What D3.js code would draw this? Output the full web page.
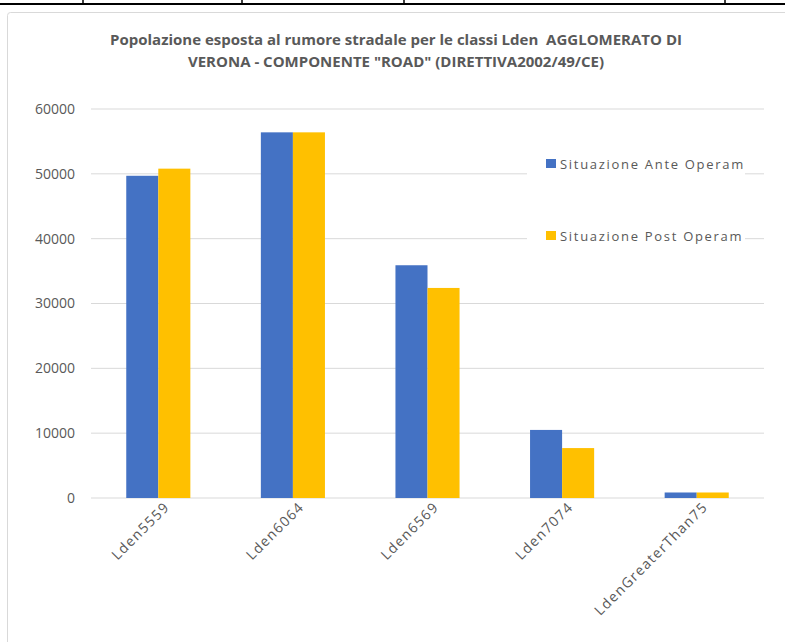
<!DOCTYPE html>
<html>
<head>
<meta charset="utf-8">
<script src="https://cdn.jsdelivr.net/npm/d3@7"></script>
<style>
    body { margin: 0; background: #fff; }
    text { font-family: "Open Sans", sans-serif; fill: #595959; }
</style>
</head>
<body>
<div id="chart-area"></div>
<script>

// Data
let categories = ["Lden5559", "Lden6064", "Lden6569", "Lden7074", "LdenGreaterThan75"];
let seriesNames = ["Situazione Ante Operam", "Situazione Post Operam"];
let anteOperam = [49700, 56400, 35900, 10500, 850];
let postOperam = [50800, 56400, 32400, 7700, 850];
let yTicks = [0, 10000, 20000, 30000, 40000, 50000, 60000];
let titleLines = [
    "Popolazione esposta al rumore stradale per le classi Lden  AGGLOMERATO DI",
    "VERONA - COMPONENTE \"ROAD\" (DIRETTIVA2002/49/CE)"
];
let colors = ["#4472C4", "#FFC000"];

let totalWidth = 785, totalHeight = 642;

// Set margin
let margin = {top: 109, right: 21, bottom: 144, left: 91};
let width = totalWidth - margin.left - margin.right;
let height = totalHeight - margin.top - margin.bottom;

let svg = d3.select("#chart-area").append("svg")
    .attr("width", totalWidth)
    .attr("height", totalHeight);

// Surrounding document table border
svg.append("line")
    .attr("x1", 0).attr("x2", totalWidth)
    .attr("y1", 4).attr("y2", 4)
    .attr("stroke", "#000").attr("stroke-width", 2);
[83, 242, 404, 725].forEach(x => {
    svg.append("line")
        .attr("x1", x).attr("x2", x)
        .attr("y1", 0).attr("y2", 4)
        .attr("stroke", "#000").attr("stroke-width", 1.5);
});

// Chart frame
svg.append("rect")
    .attr("x", 7.5).attr("y", 12.5)
    .attr("width", 800).attr("height", 700)
    .attr("rx", 3)
    .attr("fill", "#fff")
    .attr("stroke", "#d9d9d9");

// Title (keep the double space)
let title = svg.append("text")
    .attr("text-anchor", "middle")
    .attr("font-size", 15)
    .attr("font-weight", "bold")
    .style("white-space", "pre");
title.selectAll("tspan")
    .data(titleLines)
    .enter()
    .append("tspan")
    .attr("x", 396)
    .attr("y", (d, i) => 45 + i * 22)
    .text(d => d);

let g = svg.append("g")
    .attr("transform", "translate(" + margin.left + "," + margin.top + ")");

// Scales
let x0 = d3.scaleBand()
    .domain(categories)
    .range([0, width])
    .padding(0);

let x1 = d3.scaleBand()
    .domain(seriesNames)
    .range([0, x0.bandwidth()])
    .paddingInner(0)
    .paddingOuter(1.1);

let y = d3.scaleLinear()
    .domain([0, 60000])
    .range([height, 0]);

// Gridlines
g.append("g")
    .attr("class", "grid")
    .selectAll("line")
    .data(yTicks)
    .enter()
    .append("line")
    .attr("x1", 0).attr("x2", width)
    .attr("y1", d => y(d)).attr("y2", d => y(d))
    .attr("stroke", "#d9d9d9")
    .attr("stroke-width", 1);

// Y axis
let yAxis = d3.axisLeft(y)
    .tickValues(yTicks)
    .tickSize(0)
    .tickPadding(16)
    .tickFormat(d3.format("d"));

g.append("g")
    .attr("class", "y-axis axis")
    .call(yAxis)
    .call(s => s.select(".domain").remove())
    .selectAll("text")
    .attr("font-family", "Open Sans")
    .attr("font-size", 14)
    .attr("fill", "#595959");

// Bars
let tableData = categories.map((c, i) => ({
    key: c,
    values: [
        {series: seriesNames[0], value: anteOperam[i], color: colors[0]},
        {series: seriesNames[1], value: postOperam[i], color: colors[1]}
    ]
}));

let groups = g.selectAll(".bar-group")
    .data(tableData)
    .enter()
    .append("g")
    .attr("class", "bar-group")
    .attr("transform", d => "translate(" + x0(d.key) + ",0)");

groups.selectAll("rect")
    .data(d => d.values)
    .enter()
    .append("rect")
    .attr("x", d => x1(d.series))
    .attr("width", x1.bandwidth())
    .attr("y", d => y(d.value))
    .attr("height", d => height - y(d.value))
    .attr("fill", d => d.color);

// X axis labels
let xAxis = d3.axisBottom(x0)
    .tickSize(0)
    .tickPadding(0);

g.append("g")
    .attr("class", "x-axis axis")
    .attr("transform", "translate(0," + height + ")")
    .call(xAxis)
    .call(s => s.select(".domain").remove())
    .selectAll("text")
    .attr("font-family", "Open Sans")
    .attr("font-size", 14)
    .attr("letter-spacing", 1.3)
    .attr("fill", "#595959")
    .attr("text-anchor", "end")
    .attr("dy", 0)
    .attr("y", 0)
    .attr("transform", "translate(12,10) rotate(-45)");

// Legend
let legend = svg.append("g")
    .attr("class", "legend");

legend.append("rect")
    .attr("x", 527).attr("y", 150)
    .attr("width", 218).attr("height", 100)
    .attr("fill", "#fff");

let items = legend.selectAll(".legend-item")
    .data(seriesNames)
    .enter()
    .append("g")
    .attr("class", "legend-item")
    .attr("transform", (d, i) => "translate(546," + (164 + i * 72) + ")");

items.append("rect")
    .attr("x", 0).attr("y", -5)
    .attr("width", 10).attr("height", 9)
    .attr("fill", (d, i) => colors[i]);

items.append("text")
    .attr("x", 14)
    .attr("dy", "0.35em")
    .attr("font-size", 13)
    .attr("letter-spacing", 1.7)
    .text(d => d);

</script>
</body>
</html>
